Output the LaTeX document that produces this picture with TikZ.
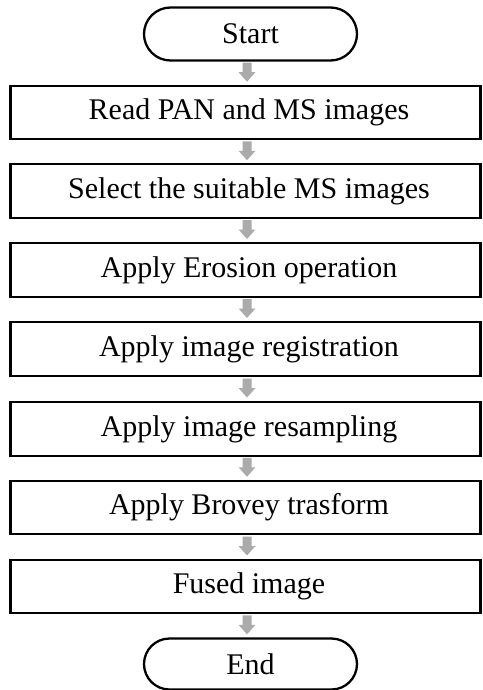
\documentclass[tikz,border=0pt]{standalone}
\usepackage{fontspec}
\setmainfont{Liberation Serif}
\usetikzlibrary{shapes.misc,calc}
\begin{document}
\begin{tikzpicture}[x=1pt,y=-1pt,
  stepbox/.style={draw=black,line width=2.1pt,minimum width=470pt,minimum height=53.5pt,
    inner sep=0pt,font=\fontsize{30}{34}\selectfont,
    execute at begin node={\hspace*{7pt}}},
  term/.style={draw=black,line width=2.3pt,rounded rectangle,minimum width=213pt,
    minimum height=53pt,inner sep=0pt,font=\fontsize{30}{34}\selectfont},
  flowfill/.style={fill=black!33,draw=none},
  pics/flowarrow/.style={code={
    \fill[flowfill] (-4.5,-9.5) -- (4.5,-9.5) -- (4.5,0) -- (8.5,0) -- (0,9.5)
      -- (-8.5,0) -- (-4.5,0) -- cycle;}}]
\useasboundingbox (0,0) rectangle (482,690);
\node[term] (start) at (250.5,34) {Start};
\node[stepbox] (s1) at (245.5,112.5) {Read PAN and MS images};
\node[stepbox] (s2) at (245.5,191) {Select the suitable MS images};
\node[stepbox] (s3) at (245.5,270) {Apply Erosion operation};
\node[stepbox] (s4) at (245.5,349) {Apply image registration};
\node[stepbox] (s5) at (245.5,429) {Apply image resampling};
\node[stepbox] (s6) at (245.5,507.5) {Apply Brovey trasform};
\node[stepbox] (s7) at (245.5,586.5) {Fused image};
\node[term,minimum height=51pt] (end) at (250.5,664) {End};
% grey block arrows between consecutive steps
\foreach \a/\b in {start/s1,s1/s2,s2/s3,s3/s4,s4/s5,s5/s6,s6/s7,s7/end}{
  \path ($(\a.south)!0.5!(\b.north)$) coordinate (m-\a);
  \path let \p1=(m-\a) in pic at (247pt,\y1+1pt) {flowarrow};
}
\end{tikzpicture}
\end{document}
